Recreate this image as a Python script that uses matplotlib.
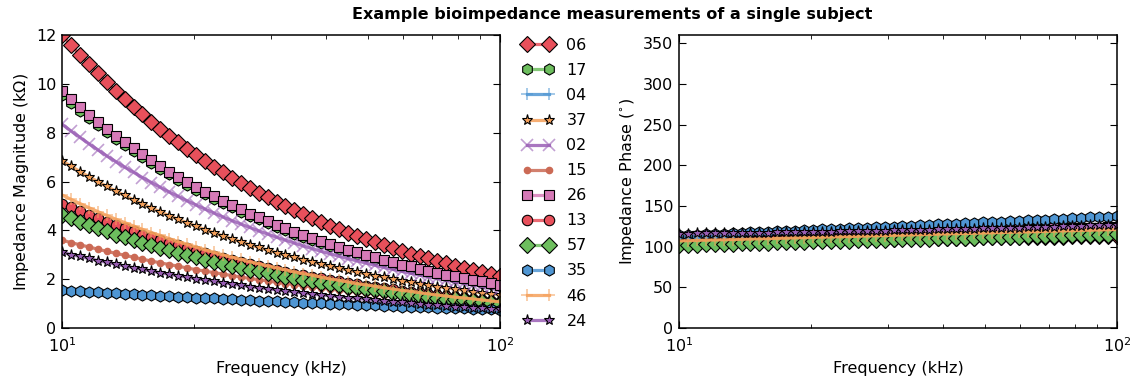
import matplotlib
matplotlib.use("Agg")
import matplotlib.pyplot as plt
import numpy as np
from matplotlib.colors import to_rgba
from matplotlib.ticker import NullFormatter

# frequency sweep (kHz), 50 log-spaced points from 10 to 100 kHz
freq = np.logspace(1, 2, 50)

labels = ['06', '17', '04', '37', '02', '15', '26', '13', '57', '35', '46', '24']

# impedance magnitude (kOhm)
mag_06 = [12.00, 11.59, 11.19, 10.80, 10.43, 10.07, 9.72, 9.39, 9.06, 8.75,
          8.45, 8.16, 7.88, 7.60, 7.34, 7.09, 6.84, 6.61, 6.38, 6.16,
          5.95, 5.74, 5.54, 5.35, 5.17, 4.99, 4.82, 4.65, 4.49, 4.34,
          4.19, 4.04, 3.90, 3.77, 3.64, 3.51, 3.39, 3.28, 3.16, 3.05,
          2.95, 2.85, 2.75, 2.65, 2.56, 2.47, 2.39, 2.31, 2.23, 2.15]
mag_17 = [9.55, 9.22, 8.90, 8.60, 8.31, 8.02, 7.75, 7.49, 7.23, 6.99,
          6.75, 6.52, 6.29, 6.08, 5.87, 5.67, 5.48, 5.29, 5.11, 4.94,
          4.77, 4.60, 4.45, 4.30, 4.15, 4.01, 3.87, 3.74, 3.61, 3.49,
          3.37, 3.25, 3.14, 3.03, 2.93, 2.83, 2.73, 2.64, 2.55, 2.46,
          2.38, 2.29, 2.21, 2.14, 2.06, 1.99, 1.92, 1.86, 1.79, 1.73]
mag_04 = [5.05, 4.89, 4.74, 4.59, 4.44, 4.30, 4.17, 4.03, 3.91, 3.78,
          3.66, 3.55, 3.43, 3.33, 3.22, 3.12, 3.02, 2.92, 2.83, 2.74,
          2.65, 2.57, 2.49, 2.41, 2.33, 2.26, 2.18, 2.11, 2.05, 1.98,
          1.92, 1.86, 1.80, 1.74, 1.68, 1.63, 1.58, 1.53, 1.48, 1.43,
          1.38, 1.34, 1.30, 1.25, 1.21, 1.17, 1.14, 1.10, 1.06, 1.03]
mag_37 = [6.85, 6.63, 6.41, 6.20, 6.00, 5.80, 5.61, 5.43, 5.25, 5.08,
          4.92, 4.76, 4.60, 4.45, 4.31, 4.17, 4.03, 3.90, 3.77, 3.65,
          3.53, 3.41, 3.30, 3.19, 3.09, 2.99, 2.89, 2.80, 2.71, 2.62,
          2.53, 2.45, 2.37, 2.29, 2.22, 2.15, 2.08, 2.01, 1.94, 1.88,
          1.82, 1.76, 1.70, 1.65, 1.59, 1.54, 1.49, 1.44, 1.40, 1.35]
mag_02 = [8.35, 8.07, 7.81, 7.55, 7.30, 7.05, 6.82, 6.59, 6.38, 6.16,
          5.96, 5.76, 5.57, 5.39, 5.21, 5.04, 4.87, 4.71, 4.55, 4.40,
          4.26, 4.12, 3.98, 3.85, 3.72, 3.60, 3.48, 3.36, 3.25, 3.14,
          3.04, 2.94, 2.84, 2.75, 2.66, 2.57, 2.48, 2.40, 2.32, 2.24,
          2.17, 2.10, 2.03, 1.96, 1.90, 1.83, 1.77, 1.71, 1.66, 1.60]
mag_15 = [3.60, 3.50, 3.41, 3.32, 3.23, 3.14, 3.06, 2.98, 2.90, 2.82,
          2.74, 2.67, 2.60, 2.53, 2.46, 2.39, 2.33, 2.27, 2.21, 2.15,
          2.09, 2.03, 1.98, 1.93, 1.87, 1.82, 1.78, 1.73, 1.68, 1.64,
          1.59, 1.55, 1.51, 1.47, 1.43, 1.39, 1.35, 1.32, 1.28, 1.25,
          1.21, 1.18, 1.15, 1.12, 1.09, 1.06, 1.03, 1.00, 0.98, 0.95]
mag_26 = [9.70, 9.37, 9.05, 8.74, 8.45, 8.16, 7.88, 7.62, 7.36, 7.11,
          6.87, 6.63, 6.41, 6.19, 5.98, 5.78, 5.58, 5.39, 5.21, 5.03,
          4.86, 4.69, 4.53, 4.38, 4.23, 4.09, 3.95, 3.81, 3.68, 3.56,
          3.44, 3.32, 3.21, 3.10, 2.99, 2.89, 2.79, 2.70, 2.60, 2.52,
          2.43, 2.35, 2.27, 2.19, 2.12, 2.04, 1.97, 1.91, 1.84, 1.78]
mag_13 = [5.10, 4.94, 4.79, 4.64, 4.49, 4.35, 4.22, 4.08, 3.96, 3.83,
          3.71, 3.60, 3.48, 3.38, 3.27, 3.17, 3.07, 2.97, 2.88, 2.79,
          2.70, 2.62, 2.54, 2.46, 2.38, 2.31, 2.23, 2.16, 2.10, 2.03,
          1.97, 1.91, 1.85, 1.79, 1.73, 1.68, 1.63, 1.58, 1.53, 1.48,
          1.43, 1.39, 1.35, 1.30, 1.26, 1.22, 1.19, 1.15, 1.11, 1.08]
mag_57 = [4.63, 4.49, 4.35, 4.21, 4.08, 3.96, 3.83, 3.72, 3.60, 3.49,
          3.38, 3.28, 3.18, 3.08, 2.98, 2.89, 2.80, 2.71, 2.63, 2.55,
          2.47, 2.39, 2.32, 2.25, 2.18, 2.11, 2.05, 1.98, 1.92, 1.86,
          1.80, 1.75, 1.70, 1.64, 1.59, 1.54, 1.50, 1.45, 1.41, 1.36,
          1.32, 1.28, 1.24, 1.20, 1.17, 1.13, 1.10, 1.06, 1.03, 1.00]
mag_35 = [1.55, 1.53, 1.50, 1.48, 1.46, 1.44, 1.42, 1.40, 1.38, 1.36,
          1.34, 1.32, 1.30, 1.28, 1.26, 1.24, 1.22, 1.21, 1.19, 1.17,
          1.16, 1.14, 1.12, 1.11, 1.09, 1.07, 1.06, 1.04, 1.03, 1.01,
          1.00, 0.98, 0.97, 0.95, 0.94, 0.93, 0.91, 0.90, 0.88, 0.87,
          0.86, 0.85, 0.83, 0.82, 0.81, 0.80, 0.78, 0.77, 0.76, 0.75]
mag_46 = [5.45, 5.27, 5.10, 4.93, 4.77, 4.61, 4.46, 4.32, 4.18, 4.04,
          3.91, 3.79, 3.66, 3.54, 3.43, 3.32, 3.21, 3.10, 3.00, 2.90,
          2.81, 2.71, 2.63, 2.54, 2.46, 2.38, 2.30, 2.23, 2.16, 2.08,
          2.01, 1.95, 1.89, 1.82, 1.77, 1.71, 1.65, 1.60, 1.54, 1.50,
          1.45, 1.40, 1.35, 1.31, 1.26, 1.23, 1.19, 1.15, 1.11, 1.07]
mag_24 = [3.10, 3.01, 2.93, 2.85, 2.76, 2.69, 2.61, 2.54, 2.47, 2.40,
          2.33, 2.26, 2.20, 2.14, 2.08, 2.02, 1.96, 1.91, 1.85, 1.80,
          1.75, 1.70, 1.65, 1.61, 1.56, 1.52, 1.48, 1.43, 1.39, 1.35,
          1.32, 1.28, 1.24, 1.21, 1.17, 1.14, 1.11, 1.08, 1.05, 1.02,
          0.99, 0.96, 0.93, 0.91, 0.88, 0.86, 0.83, 0.81, 0.78, 0.76]

# impedance phase (degrees)
ph_06 = [106.0, 106.2, 106.4, 106.5, 106.7, 106.9, 107.1, 107.3, 107.4, 107.6,
         107.8, 108.0, 108.1, 108.3, 108.4, 108.6, 108.7, 108.9, 109.0, 109.2,
         109.3, 109.5, 109.6, 109.8, 109.9, 110.1, 110.2, 110.4, 110.5, 110.7,
         110.8, 110.9, 111.0, 111.2, 111.3, 111.4, 111.5, 111.6, 111.8, 111.9,
         112.0, 112.1, 112.2, 112.4, 112.5, 112.6, 112.7, 112.8, 112.9, 113.0]
ph_17 = [109.0, 109.2, 109.4, 109.7, 109.9, 110.1, 110.3, 110.6, 110.8, 111.0,
         111.2, 111.5, 111.7, 111.9, 112.1, 112.4, 112.6, 112.8, 113.0, 113.3,
         113.5, 113.7, 113.9, 114.2, 114.4, 114.6, 114.8, 115.1, 115.3, 115.5,
         115.7, 116.0, 116.2, 116.4, 116.6, 116.9, 117.1, 117.3, 117.5, 117.8,
         118.0, 118.2, 118.4, 118.7, 118.9, 119.1, 119.3, 119.6, 119.8, 120.0]
ph_04 = [104.0, 104.2, 104.5, 104.7, 105.0, 105.2, 105.5, 105.7, 106.0, 106.2,
         106.4, 106.7, 106.9, 107.2, 107.4, 107.7, 107.9, 108.2, 108.4, 108.7,
         108.9, 109.1, 109.4, 109.6, 109.9, 110.1, 110.4, 110.6, 110.9, 111.1,
         111.3, 111.6, 111.8, 112.1, 112.3, 112.6, 112.8, 113.1, 113.3, 113.6,
         113.8, 114.0, 114.3, 114.5, 114.8, 115.0, 115.3, 115.5, 115.8, 116.0]
ph_37 = [112.0, 112.3, 112.5, 112.8, 113.1, 113.3, 113.6, 113.9, 114.1, 114.4,
         114.7, 114.9, 115.2, 115.4, 115.7, 116.0, 116.2, 116.5, 116.8, 117.0,
         117.3, 117.6, 117.8, 118.1, 118.4, 118.6, 118.9, 119.2, 119.4, 119.7,
         120.0, 120.2, 120.5, 120.8, 121.0, 121.3, 121.6, 121.8, 122.1, 122.3,
         122.6, 122.9, 123.1, 123.4, 123.7, 123.9, 124.2, 124.5, 124.7, 125.0]
ph_02 = [110.0, 110.2, 110.5, 110.7, 111.0, 111.2, 111.5, 111.7, 112.0, 112.2,
         112.4, 112.7, 112.9, 113.2, 113.4, 113.7, 113.9, 114.2, 114.4, 114.7,
         114.9, 115.1, 115.4, 115.6, 115.9, 116.1, 116.4, 116.6, 116.9, 117.1,
         117.3, 117.6, 117.8, 118.1, 118.3, 118.6, 118.8, 119.1, 119.3, 119.6,
         119.8, 120.0, 120.3, 120.5, 120.8, 121.0, 121.3, 121.5, 121.8, 122.0]
ph_15 = [108.0, 108.2, 108.4, 108.7, 108.9, 109.1, 109.3, 109.6, 109.8, 110.0,
         110.2, 110.5, 110.7, 110.9, 111.1, 111.4, 111.6, 111.8, 112.0, 112.3,
         112.5, 112.7, 112.9, 113.2, 113.4, 113.6, 113.8, 114.1, 114.3, 114.5,
         114.7, 115.0, 115.2, 115.4, 115.6, 115.9, 116.1, 116.3, 116.5, 116.8,
         117.0, 117.2, 117.4, 117.7, 117.9, 118.1, 118.3, 118.6, 118.8, 119.0]
ph_26 = [112.0, 112.2, 112.5, 112.7, 113.0, 113.2, 113.5, 113.7, 114.0, 114.2,
         114.4, 114.7, 114.9, 115.2, 115.4, 115.7, 115.9, 116.2, 116.4, 116.7,
         116.9, 117.1, 117.4, 117.6, 117.9, 118.1, 118.4, 118.6, 118.9, 119.1,
         119.3, 119.6, 119.8, 120.1, 120.3, 120.6, 120.8, 121.1, 121.3, 121.6,
         121.8, 122.0, 122.3, 122.5, 122.8, 123.0, 123.3, 123.5, 123.8, 124.0]
ph_13 = [108.0, 108.2, 108.4, 108.6, 108.7, 108.9, 109.1, 109.3, 109.5, 109.7,
         109.8, 110.0, 110.2, 110.4, 110.6, 110.8, 110.9, 111.1, 111.3, 111.5,
         111.7, 111.9, 112.0, 112.2, 112.4, 112.6, 112.8, 113.0, 113.1, 113.3,
         113.5, 113.7, 113.9, 114.1, 114.2, 114.4, 114.6, 114.8, 115.0, 115.2,
         115.3, 115.5, 115.7, 115.9, 116.1, 116.3, 116.4, 116.6, 116.8, 117.0]
ph_57 = [102.0, 102.3, 102.6, 102.9, 103.2, 103.5, 103.8, 104.1, 104.4, 104.7,
         105.0, 105.3, 105.6, 105.8, 106.1, 106.4, 106.7, 107.0, 107.2, 107.5,
         107.8, 108.1, 108.3, 108.6, 108.8, 109.1, 109.4, 109.6, 109.9, 110.1,
         110.4, 110.7, 110.9, 111.2, 111.4, 111.7, 111.9, 112.2, 112.4, 112.7,
         112.9, 113.1, 113.4, 113.6, 113.9, 114.1, 114.3, 114.6, 114.8, 115.0]
ph_35 = [114.0, 114.4, 114.8, 115.3, 115.7, 116.1, 116.5, 117.0, 117.4, 117.9,
         118.3, 118.8, 119.2, 119.7, 120.1, 120.6, 121.1, 121.5, 122.0, 122.4,
         122.9, 123.4, 123.8, 124.3, 124.7, 125.2, 125.7, 126.2, 126.7, 127.2,
         127.7, 128.2, 128.7, 129.2, 129.7, 130.2, 130.7, 131.2, 131.7, 132.2,
         132.7, 133.2, 133.8, 134.3, 134.9, 135.4, 135.9, 136.4, 137.0, 137.5]
ph_46 = [107.0, 107.3, 107.6, 107.9, 108.1, 108.4, 108.7, 109.0, 109.3, 109.6,
         109.9, 110.1, 110.4, 110.7, 111.0, 111.3, 111.6, 111.9, 112.1, 112.4,
         112.7, 113.0, 113.3, 113.6, 113.9, 114.1, 114.4, 114.7, 115.0, 115.3,
         115.6, 115.9, 116.1, 116.4, 116.7, 117.0, 117.3, 117.6, 117.9, 118.1,
         118.4, 118.7, 119.0, 119.3, 119.6, 119.9, 120.1, 120.4, 120.7, 121.0]
ph_24 = [116.0, 116.1, 116.2, 116.4, 116.5, 116.6, 116.7, 116.9, 117.0, 117.2,
         117.3, 117.5, 117.6, 117.8, 117.9, 118.1, 118.3, 118.5, 118.6, 118.8,
         119.0, 119.2, 119.4, 119.7, 119.9, 120.1, 120.3, 120.6, 120.8, 121.1,
         121.3, 121.6, 121.8, 122.1, 122.3, 122.6, 122.9, 123.2, 123.5, 123.8,
         124.1, 124.4, 124.7, 125.1, 125.4, 125.7, 126.0, 126.3, 126.7, 127.0]

mags = [mag_06, mag_17, mag_04, mag_37, mag_02, mag_15,
        mag_26, mag_13, mag_57, mag_35, mag_46, mag_24]
phases = [ph_06, ph_17, ph_04, ph_37, ph_02, ph_15,
          ph_26, ph_13, ph_57, ph_35, ph_46, ph_24]

# 7 colours and 8 markers cycle independently
colors = ['#E8505B', '#6DBE5E', '#4F96D3', '#F5A05A', '#9A5FB5', '#CB6A55', '#D67AB7']
markers = ['D', 'h', '+', '*', 'x', '.', 's', 'o']
msizes = {'D': 8.5, 'h': 8, '+': 8, '*': 8, 'x': 8, '.': 9, 's': 7.5, 'o': 7.5}

plt.rcParams['font.family'] = 'DejaVu Sans'
plt.rcParams['font.size'] = 11.5
plt.rcParams['xtick.direction'] = 'in'
plt.rcParams['ytick.direction'] = 'in'
plt.rcParams['xtick.top'] = True
plt.rcParams['ytick.right'] = True
plt.rcParams['xtick.major.size'] = 5
plt.rcParams['ytick.major.size'] = 5
plt.rcParams['xtick.minor.size'] = 3
plt.rcParams['xtick.major.pad'] = 6
plt.rcParams['ytick.major.pad'] = 4
plt.rcParams['axes.linewidth'] = 1.1


def draw(ax, series):
    for i, (lab, y) in enumerate(zip(labels, series)):
        c = colors[i % len(colors)]
        m = markers[i % len(markers)]
        kw = dict(marker=m, ms=msizes[m], lw=2.3, color=to_rgba(c, 0.85), label=lab)
        if m in ('+', 'x'):
            kw.update(mec=to_rgba(c, 0.6), mew=1.2)
        elif m == '.':
            kw.update(mec=c, mfc=c)
        else:
            kw.update(mec='black', mfc=c, mew=0.8)
        ax.plot(freq, y, **kw)
    ax.set_xscale('log')
    ax.set_xlim(10, 100)
    ax.xaxis.set_minor_formatter(NullFormatter())
    ax.set_xlabel('Frequency (kHz)')


fig = plt.figure(figsize=(11.4, 3.85), dpi=100)
ax1 = fig.add_axes([0.0544, 0.148, 0.3842, 0.761])
ax2 = fig.add_axes([0.5956, 0.148, 0.3842, 0.761])

draw(ax1, mags)
ax1.set_ylim(0, 12)
ax1.set_ylabel(r'Impedance Magnitude (k$\Omega$)')
ax1.legend(loc='upper left', bbox_to_anchor=(1.035, 1.012), frameon=False,
           numpoints=2, handlelength=2.0, handletextpad=0.8, labelspacing=0.63,
           borderaxespad=0.0, fontsize=11.5)

draw(ax2, phases)
ax2.set_ylim(0, 360)
ax2.set_yticks(np.arange(0, 351, 50))
ax2.set_ylabel(r'Impedance Phase ($^{\circ}$)')

fig.text(0.537, 0.963, 'Example bioimpedance measurements of a single subject',
         ha='center', va='center', fontsize=11.5, fontweight='bold')

fig.savefig('out.png', dpi=100)
